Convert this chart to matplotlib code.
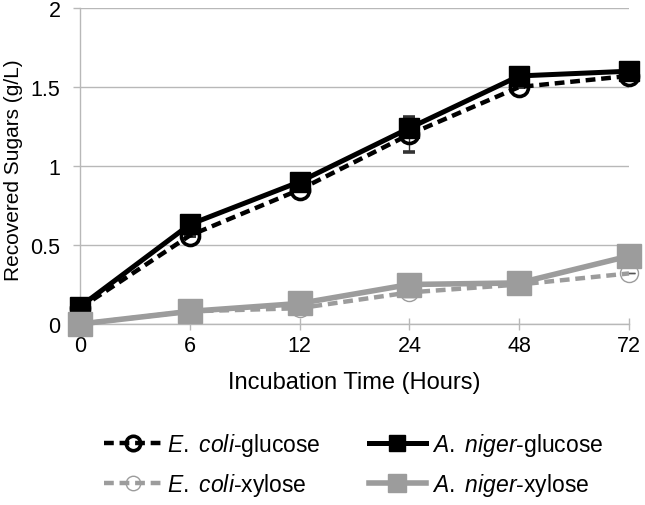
import numpy as np
import matplotlib
matplotlib.use("Agg")
import matplotlib.pyplot as plt

plt.rcParams['font.family'] = ['Liberation Sans', 'DejaVu Sans']
plt.rcParams['mathtext.fontset'] = 'custom'
plt.rcParams['mathtext.rm'] = 'Liberation Sans'
plt.rcParams['mathtext.it'] = 'Liberation Sans:italic'

# data
hours = ['0', '6', '12', '24', '48', '72']
ecoli_glucose = [0.10, 0.56, 0.85, 1.20, 1.50, 1.57]
ecoli_glucose_err = [0, 0, 0, 0.11, 0, 0]
aniger_glucose = [0.11, 0.63, 0.90, 1.24, 1.57, 1.60]
ecoli_xylose = [0.0, 0.08, 0.10, 0.20, 0.25, 0.32]
ecoli_xylose_err = [0, 0, 0, 0.03, 0, 0]
aniger_xylose = [0.0, 0.08, 0.13, 0.25, 0.26, 0.43]

gray = '#9c9c9c'
grid = '#b8b8b8'

fig = plt.figure(figsize=(6.45, 5.06), dpi=100)
ax = fig.add_axes([80/645, 1-325/506, (629-80)/645, (325-9)/506])

x = np.arange(len(hours))

l1 = ax.errorbar(x, ecoli_glucose, yerr=ecoli_glucose_err, color='black', ls=(0, (2.2, 1.3)), lw=3.2,
                 marker='o', ms=13, mfc='none', mec='black', mew=2.6, ecolor='#333333', elinewidth=1,
                 capsize=4, capthick=1, clip_on=False, zorder=3)
l2, = ax.plot(x, aniger_glucose, color='black', lw=3.6, marker='s', ms=15, mfc='black', mec='black',
              clip_on=False, zorder=4)
l3 = ax.errorbar(x, ecoli_xylose, yerr=ecoli_xylose_err, color=gray, ls=(0, (2.2, 1.3)), lw=3.2,
                 marker='o', ms=13, mfc='none', mec=gray, mew=1, ecolor='#555555', elinewidth=1,
                 capsize=4, capthick=1, clip_on=False, zorder=5)
l4, = ax.plot(x, aniger_xylose, color=gray, lw=4, marker='s', ms=17, mfc=gray, mec=gray,
              clip_on=False, zorder=6)

ax.set_xlim(0, 5)
ax.set_ylim(0, 2)
ax.set_xticks(x)
ax.set_xticklabels(hours)
ax.set_yticks([0, 0.5, 1, 1.5, 2])
ax.set_yticklabels(['0', '0.5', '1', '1.5', '2'])
ax.yaxis.grid(True, color=grid, lw=1)
ax.set_axisbelow(True)

for s in ['top', 'right']:
    ax.spines[s].set_visible(False)
for s in ['left', 'bottom']:
    ax.spines[s].set_color(grid)
    ax.spines[s].set_linewidth(1)

ax.tick_params(axis='x', direction='inout', length=8, color=grid, width=1, labelsize=15.5, pad=4)
ax.tick_params(axis='y', direction='out', length=5, color=grid, width=1, labelsize=15.5, pad=9)

ax.set_xlabel('Incubation Time (Hours)', fontsize=17, labelpad=11)
ax.set_ylabel('Recovered Sugars (g/L)', fontsize=15)
ax.yaxis.set_label_coords(-0.104, 0.49)

labels = [r'$\it{E.\ coli}$-glucose', r'$\it{E.\ coli}$-xylose',
          r'$\it{A.\ niger}$-glucose', r'$\it{A.\ niger}$-xylose']
fig.legend([l1.lines[0], l3.lines[0], l2, l4], labels,
           loc='center', bbox_to_anchor=(0.548, 0.080), ncol=2, frameon=False,
           fontsize=16.5, handlelength=2.5, handletextpad=0.25, columnspacing=2.1,
           labelspacing=0.6, markerscale=0.8)

fig.savefig('out.png', dpi=100)
